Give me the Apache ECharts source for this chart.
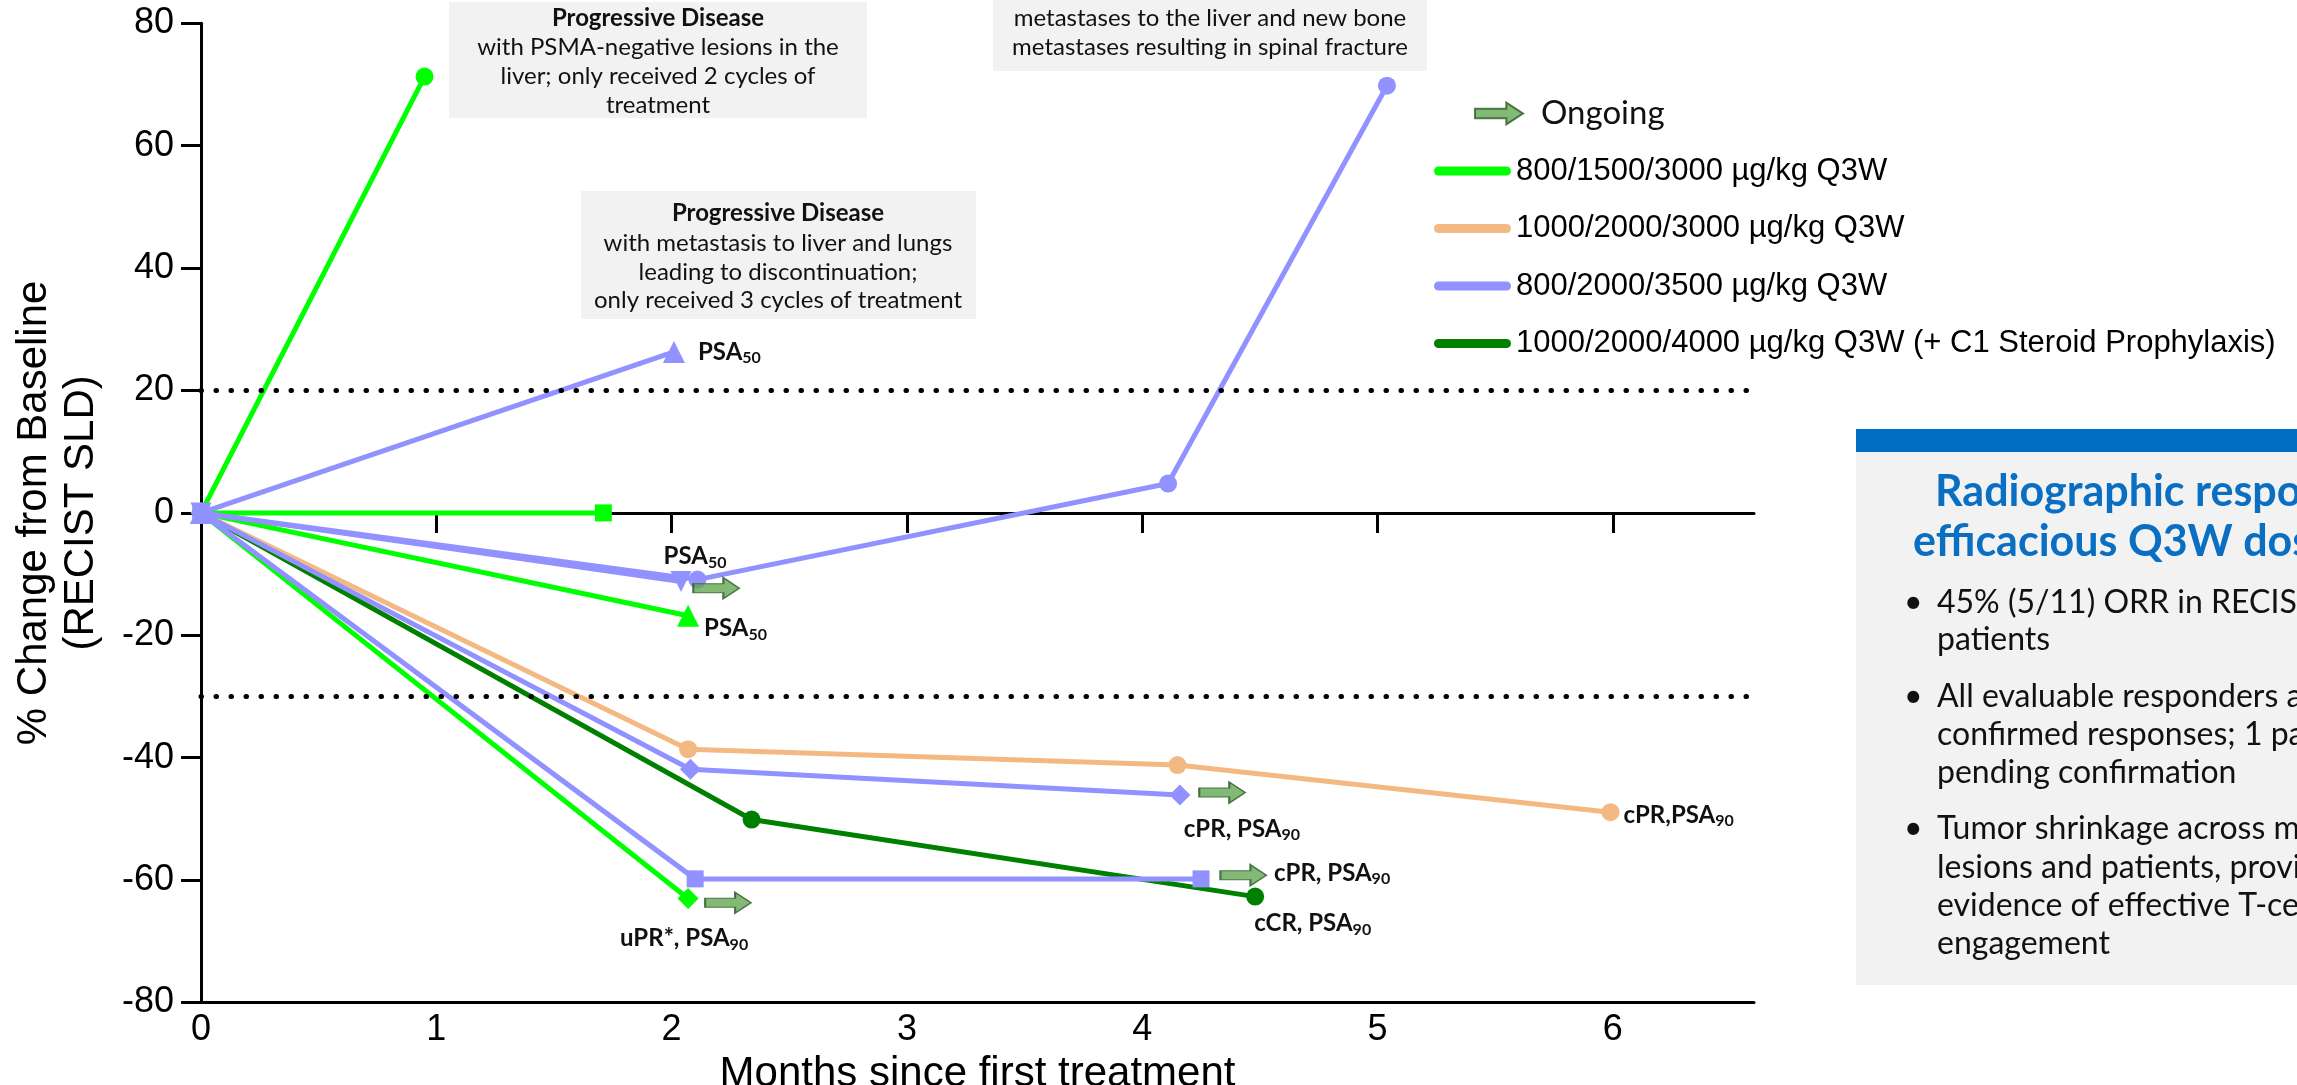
<!DOCTYPE html>
<html>
<head>
<meta charset="utf-8">
<script src="https://cdn.jsdelivr.net/npm/echarts@6/dist/echarts.min.js"></script>
<style>
html,body{margin:0;padding:0;background:#fff;}
#chart{width:2297px;height:1085px;}
</style>
</head>
<body>
<div id="chart"></div>
<script>
// ---------------- DATA ----------------
const doseGroups = [
  '800/1500/3000 µg/kg Q3W',
  '1000/2000/3000 µg/kg Q3W',
  '800/2000/3500 µg/kg Q3W',
  '1000/2000/4000 µg/kg Q3W (+ C1 Steroid Prophylaxis)'
];
const xTickValues = [0, 1, 2, 3, 4, 5, 6];
const refLineValues = [20, -30];

// 800/1500/3000 µg/kg Q3W
const pt1Months = [0, 0.95];             const pt1Pct = [0, 71.3];
const pt2Months = [0, 1.71];             const pt2Pct = [0, 0];
const pt3Months = [0, 2.07];             const pt3Pct = [0, -16.8];
const pt4Months = [0, 2.07];             const pt4Pct = [0, -63.0];
// 1000/2000/3000 µg/kg Q3W
const pt5Months = [0, 2.07, 4.15, 5.99]; const pt5Pct = [0, -38.6, -41.2, -48.9];
// 800/2000/3500 µg/kg Q3W
const pt6Months = [0, 2.01];             const pt6Pct = [0, 26.3];
const pt7Months = [0, 2.04];             const pt7Pct = [0, -11.2];
const pt8Months = [0, 2.11, 4.11, 5.04]; const pt8Pct = [0, -10.9, 4.8, 69.8];
const pt9Months = [0, 2.08, 4.16];       const pt9Pct = [0, -41.9, -46.1];
const pt10Months = [0, 2.10, 4.25];      const pt10Pct = [0, -59.8, -59.8];
// 1000/2000/4000 µg/kg Q3W (+ C1 Steroid Prophylaxis)
const pt11Months = [0, 2.34, 4.48];      const pt11Pct = [0, -50.1, -62.7];

// Response notes at last assessment [text, subscript]
const pt3Note = ['PSA', '50'];
const pt4Note = ['uPR*, PSA', '90'];
const pt5Note = ['cPR,PSA', '90'];
const pt6Note = ['PSA', '50'];
const pt7Note = ['PSA', '50'];
const pt9Note = ['cPR, PSA', '90'];
const pt10Note = ['cPR, PSA', '90'];
const pt11Note = ['cCR, PSA', '90'];

// Ongoing arrows
const ongoingMonths = [2.19, 2.24, 4.34, 4.43];
const ongoingPct = [-12.3, -63.7, -45.7, -59.2];

// ---------------- STYLE / BUILD ----------------
const groupColors = ['#00ff00', '#f4b983', '#9191ff', '#008000'];
const groupZ = [3, 3, 4, 3];
const ARROW = 'path://M0,6L30,6L30,0L46,10.5L30,21L30,15L0,15Z';
const PILL = 'path://M4.5,0L72.5,0A4.5,4.5 0 0 1 72.5,9L4.5,9A4.5,4.5 0 0 1 4.5,0Z';
const LATO = 'Lato, "Open Sans", sans-serif';
const ARIAL = '"Liberation Sans", Arial, sans-serif';

const patients = [
  {g:0, m:pt1Months, p:pt1Pct, sym:'circle', size:18},
  {g:0, m:pt2Months, p:pt2Pct, sym:'rect', size:17},
  {g:0, m:pt3Months, p:pt3Pct, sym:'triangle', size:22, note:pt3Note, align:'left', off:[16,13]},
  {g:0, m:pt4Months, p:pt4Pct, sym:'diamond', size:21, note:pt4Note, align:'center', off:[-4,40]},
  {g:1, m:pt5Months, p:pt5Pct, sym:'circle', size:18, note:pt5Note, align:'left', off:[13,3]},
  {g:2, m:pt6Months, p:pt6Pct, sym:'triangle', size:22, note:pt6Note, align:'left', off:[24,0]},
  {g:2, m:pt7Months, p:pt7Pct, sym:'triangle', rot:180, size:21, note:pt7Note, align:'center', off:[14,-25]},
  {g:2, m:pt8Months, p:pt8Pct, sym:'circle', size:18},
  {g:2, m:pt9Months, p:pt9Pct, sym:'diamond', size:21, note:pt9Note, align:'left', off:[4,34]},
  {g:2, m:pt10Months, p:pt10Pct, sym:'rect', size:17, note:pt10Note, align:'left', off:[73,-6]},
  {g:3, m:pt11Months, p:pt11Pct, sym:'circle', size:18, note:pt11Note, align:'left', off:[-1,27]}
];

const noteRich = {
  m: {fontFamily: LATO, fontWeight: 'bold', fontSize: 24, color: '#111', lineHeight: 28},
  s: {fontFamily: LATO, fontWeight: 'bold', fontSize: 16, color: '#111', lineHeight: 18, verticalAlign: 'bottom'}
};

const series = patients.map(pt => {
  const last = pt.m.length - 1;
  const data = pt.m.map((x, i) => {
    if (i === last && pt.note) {
      return {
        value: [x, pt.p[i]],
        label: {
          show: true, position: 'inside', align: pt.align, verticalAlign: 'middle',
          offset: pt.off,
          formatter: '{m|' + pt.note[0] + '}{s|' + pt.note[1] + '}',
          rich: noteRich
        }
      };
    }
    return [x, pt.p[i]];
  });
  return {
    type: 'line', name: doseGroups[pt.g], xAxisIndex: 0, yAxisIndex: 0,
    data, symbol: pt.sym, symbolSize: pt.size, symbolRotate: pt.rot || 0,
    showAllSymbol: true, clip: false,
    lineStyle: {color: groupColors[pt.g], width: 5},
    itemStyle: {color: groupColors[pt.g]},
    emphasis: {disabled: true},
    label: {show: false},
    z: groupZ[pt.g]
  };
});

// reference dotted lines
series.push({
  type: 'line', name: 'ref', data: [], xAxisIndex: 0, yAxisIndex: 0,
  markLine: {
    silent: true, symbol: ['none', 'none'], label: {show: false},
    lineStyle: {color: '#000', width: 5, type: [0.5, 14.5], cap: 'round'},
    data: refLineValues.map(v => ({yAxis: v}))
  },
  z: 1
});

// ongoing arrows
series.push({
  type: 'scatter', name: 'Ongoing', xAxisIndex: 0, yAxisIndex: 0,
  data: ongoingMonths.map((x, i) => [x, ongoingPct[i]]),
  symbol: ARROW, symbolSize: [46, 21], clip: false,
  itemStyle: {color: '#62a852', borderColor: '#2e5a28', borderWidth: 1.5},
  emphasis: {disabled: true},
  z: 5
});

// ---------------- GRAPHIC (annotations & side panel) ----------------
function lines(x, ys, texts, opts) {
  return texts.map((t, i) => ({
    type: 'text', x: x, y: ys[i], silent: true, z: 10,
    style: Object.assign({
      text: t, fill: '#111', align: 'center', verticalAlign: 'middle',
      fontFamily: LATO, fontSize: 24, fontWeight: (opts && opts.boldFirst && i === 0) ? 'bold' : 'normal'
    }, (opts && opts.style) || {})
  }));
}

const graphic = [
  {type: 'rect', x: 449, y: 2, shape: {width: 418, height: 116}, style: {fill: '#f2f2f2'}, silent: true, z: 9},
  ...lines(658, [18, 47, 76, 105], ['Progressive Disease', 'with PSMA-negative lesions in the', 'liver; only received 2 cycles of', 'treatment'], {boldFirst: true}),
  {type: 'rect', x: 581, y: 191, shape: {width: 395, height: 128}, style: {fill: '#f2f2f2'}, silent: true, z: 9},
  ...lines(778, [213, 243, 272, 300], ['Progressive Disease', 'with metastasis to liver and lungs', 'leading to discontinuation;', 'only received 3 cycles of treatment'], {boldFirst: true}),
  {type: 'rect', x: 993, y: -10, shape: {width: 434, height: 81}, style: {fill: '#f2f2f2'}, silent: true, z: 9},
  ...lines(1210, [18, 47], ['metastases to the liver and new bone', 'metastases resulting in spinal fracture']),
  // side panel
  {type: 'rect', x: 1856, y: 429, shape: {width: 460, height: 23}, style: {fill: '#006ec4'}, silent: true},
  {type: 'rect', x: 1856, y: 452, shape: {width: 460, height: 533}, style: {fill: '#f2f2f2'}, silent: true},
  {type: 'text', x: 1935, y: 492, silent: true, style: {text: 'Radiographic responses at', fill: '#0a6fc2', fontFamily: LATO, fontWeight: 'bold', fontSize: 43, align: 'left', verticalAlign: 'middle'}},
  {type: 'text', x: 1913, y: 542, silent: true, style: {text: 'efficacious Q3W doses', fill: '#0a6fc2', fontFamily: LATO, fontWeight: 'bold', fontSize: 43, align: 'left', verticalAlign: 'middle'}}
];

const bulletLines = [
  ['45% (5/11) ORR in RECIST-evaluable', 'patients'],
  ['All evaluable responders are', 'confirmed responses; 1 patient', 'pending confirmation'],
  ['Tumor shrinkage across multiple', 'lesions and patients, providing', 'evidence of effective T-cell', 'engagement']
];
const bulletBaselines = [[615, 652], [709, 747, 785], [841, 880, 918, 956]];
bulletLines.forEach((para, pi) => {
  graphic.push({type: 'text', x: 1904, y: bulletBaselines[pi][0] - 12.5, silent: true,
    style: {text: '•', fill: '#111', fontFamily: LATO, fontSize: 32, align: 'left', verticalAlign: 'middle'}});
  para.forEach((t, li) => {
    graphic.push({type: 'text', x: 1937, y: bulletBaselines[pi][li] - 12.5, silent: true,
      style: {text: t, fill: '#111', fontFamily: LATO, fontSize: 32, align: 'left', verticalAlign: 'middle'}});
  });
});

// ---------------- OPTION ----------------
const chart = echarts.init(document.getElementById('chart'), null, {renderer: 'canvas'});
const option = {
  animation: false,
  backgroundColor: '#ffffff',
  textStyle: {fontFamily: ARIAL},
  grid: {left: 201, right: 543, top: 23.3, bottom: 82.5, containLabel: false, outerBoundsMode: 'none'},
  xAxis: [
    {
      type: 'value', min: 0, max: 6.6, position: 'bottom',
      axisLine: {show: true, onZero: false, lineStyle: {color: '#000', width: 3}},
      axisTick: {show: false},
      axisLabel: {customValues: xTickValues, fontSize: 36, fontFamily: ARIAL, color: '#000', margin: 10},
      splitLine: {show: false},
      name: 'Months since first treatment', nameLocation: 'middle', nameGap: 37,
      nameTextStyle: {fontSize: 42, fontFamily: ARIAL, color: '#000'}
    },
    {
      type: 'value', min: 0, max: 6.6, position: 'top',
      axisLine: {show: true, onZero: true, onZeroAxisIndex: 0, lineStyle: {color: '#000', width: 3}},
      axisTick: {show: true, inside: true, length: 20, customValues: xTickValues.slice(1), lineStyle: {color: '#000', width: 3}},
      axisLabel: {show: false},
      splitLine: {show: false}
    }
  ],
  yAxis: {
    type: 'value', min: -80, max: 80, interval: 20,
    axisLine: {show: true, onZero: false, lineStyle: {color: '#000', width: 3}},
    axisTick: {show: true, length: 20, lineStyle: {color: '#000', width: 3}},
    axisLabel: {fontSize: 36, fontFamily: ARIAL, color: '#000', margin: 27},
    splitLine: {show: false},
    name: '% Change from Baseline\n(RECIST SLD)', nameLocation: 'middle', nameGap: 96,
    nameTextStyle: {fontSize: 42, lineHeight: 47, fontFamily: ARIAL, color: '#000'}
  },
  legend: [
    {
      data: [{name: 'Ongoing', icon: ARROW}],
      orient: 'vertical', left: 1469, top: 92, itemWidth: 48, itemHeight: 22,
      selectedMode: false,
      textStyle: {fontFamily: LATO, fontSize: 33, color: '#111', padding: [0, 0, 0, 13]}
    },
    {
      data: doseGroups.map(n => ({name: n, icon: PILL})),
      orient: 'vertical', left: 1429, top: 148, itemWidth: 77, itemHeight: 9, itemGap: 21.5,
      selectedMode: false,
      textStyle: {fontFamily: ARIAL, fontSize: 31, lineHeight: 36, color: '#000'}
    }
  ],
  series: series,
  graphic: graphic
};
chart.setOption(option);
</script>
</body>
</html>
